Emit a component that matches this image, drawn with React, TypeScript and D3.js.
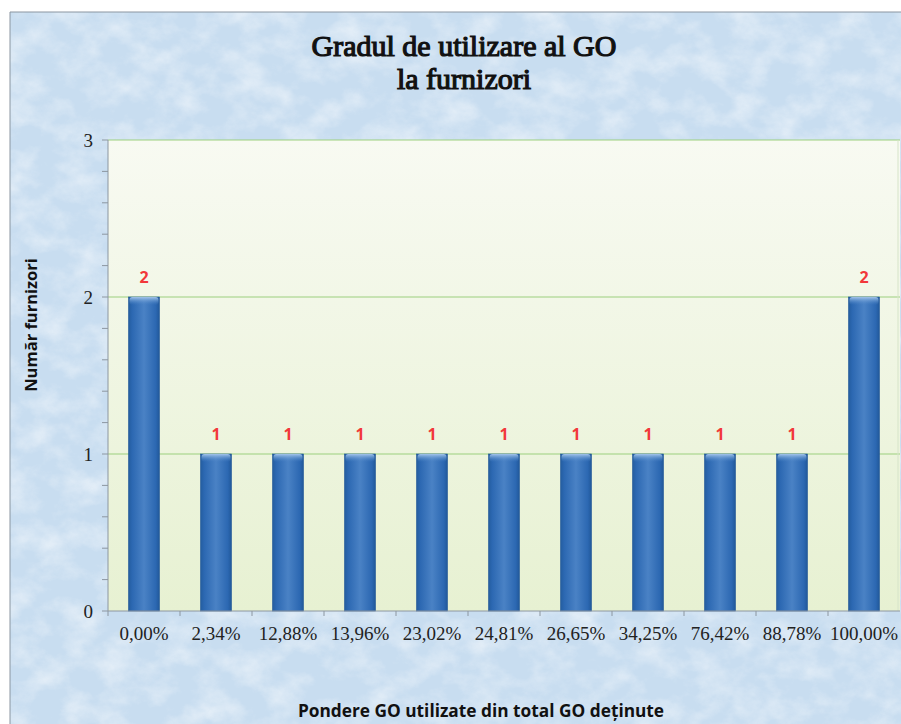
import React from "react";
import * as d3 from "d3";

const categories = ["0,00%", "2,34%", "12,88%", "13,96%", "23,02%", "24,81%", "26,65%", "34,25%", "76,42%", "88,78%", "100,00%"];
const values = [2, 1, 1, 1, 1, 1, 1, 1, 1, 1, 2];
const yTicks = [0, 1, 2, 3];
const titleLines = ["Gradul de utilizare al GO", "la furnizori"];
const yTitle = "Număr furnizori";
const xTitle = "Pondere GO utilizate din total GO deținute";

const W = 901, H = 724;
const M = { left: 108, right: 900, top: 140, bottom: 611 };
const SERIF = "'Liberation Serif', serif";
const SANS = "'Open Sans', 'Noto Sans', sans-serif";

export default function App() {
  const x = d3.scaleBand<string>().domain(categories).range([M.left, M.right]).paddingInner(0.57).paddingOuter(0.285);
  const xb = d3.scaleBand<string>().domain(categories).range([M.left, M.right]);
  const y = d3.scaleLinear().domain([0, 3]).range([M.bottom, M.top]);
  const minor = d3.range(0, 3.0001, 0.2);
  const bw = x.bandwidth();

  return (
    <svg width={W} height={H} style={{ position: "absolute", left: 0, top: 0 }} xmlns="http://www.w3.org/2000/svg">
      <defs>
        <filter id="marble" x="0" y="0" width="100%" height="100%">
          <feTurbulence type="fractalNoise" baseFrequency="0.03 0.04" numOctaves="5" seed="7" />
          <feColorMatrix type="matrix" values="0 0 0 0 1  0 0 0 0 1  0 0 0 0 1  1.8 0 0 0 -0.7" />
        </filter>
        <linearGradient id="plotBg" x1="0" y1="0" x2="0" y2="1">
          <stop offset="0" stopColor="#f8faf2" />
          <stop offset="1" stopColor="#e7f1d2" />
        </linearGradient>
        <linearGradient id="barG" x1="0" y1="0" x2="1" y2="0">
          <stop offset="0" stopColor="#245d9f" />
          <stop offset="0.12" stopColor="#2c68b2" />
          <stop offset="0.5" stopColor="#4a82c5" />
          <stop offset="0.88" stopColor="#2c68b2" />
          <stop offset="1" stopColor="#215899" />
        </linearGradient>
        <linearGradient id="capG" x1="0" y1="0" x2="0" y2="1">
          <stop offset="0" stopColor="#a4c5ea" />
          <stop offset="1" stopColor="#4d86c8" stopOpacity="0" />
        </linearGradient>
      </defs>
      <rect x={0} y={0} width={W} height={H} fill="#ffffff" />
      <rect x={10} y={12} width={W - 10} height={H - 12} fill="#c8ddf0" />
      <rect x={10} y={12} width={W - 10} height={H - 12} fill="#ffffff" filter="url(#marble)" opacity={0.55} />
      <line x1={10} y1={12} x2={W} y2={12} stroke="#8a95a0" strokeWidth={1} />
      <line x1={10} y1={12} x2={10} y2={H} stroke="#8a95a0" strokeWidth={1} />

      {titleLines.map((t, i) => (
        <text key={i} x={464} y={56 + i * 33} textAnchor="middle" fontFamily={SERIF} fontWeight="normal" fontSize={30} fill="#111" stroke="#111" strokeWidth={1.2} style={{ fontSynthesis: "none" }}>
          {t}
        </text>
      ))}

      <rect x={M.left} y={M.top} width={M.right - M.left} height={M.bottom - M.top} fill="url(#plotBg)" />
      {yTicks.filter(t => t > 0).map(t => (
        <line key={t} x1={M.left} x2={M.right} y1={y(t)} y2={y(t)} stroke="#9ccf7e" strokeWidth={1.2} />
      ))}
      <line x1={M.right - 2} x2={M.right - 2} y1={M.top} y2={M.bottom} stroke="#d6e4c8" strokeWidth={1} />

      {categories.map((c, i) => {
        const bx = x(c) as number;
        const by = y(values[i]);
        const bh = M.bottom - by;
        return (
          <g key={c}>
            <rect x={bx} y={by} width={bw} height={bh} fill="url(#barG)" stroke="#1f5596" strokeWidth={0.6} />
            <rect x={bx + 1} y={by} width={bw - 2} height={8} rx={3} fill="url(#capG)" />
            <text x={bx + bw / 2} y={by - 14} textAnchor="middle" fontFamily={SANS} fontWeight="bold" fontSize={16} fill="#f2383a">
              {values[i]}
            </text>
          </g>
        );
      })}

      {/* y axis */}
      <line x1={M.left} x2={M.left} y1={M.top} y2={M.bottom} stroke="#8c96a0" strokeWidth={1} />
      {minor.map((t, i) => (
        <line key={i} x1={M.left - 6} x2={M.left} y1={y(t)} y2={y(t)} stroke="#8c96a0" strokeWidth={1} />
      ))}
      {yTicks.map(t => (
        <text key={t} x={93} y={y(t) + 7} textAnchor="end" fontFamily={SERIF} fontSize={19} fill="#222">
          {t}
        </text>
      ))}
      <text transform={`translate(37,${325}) rotate(-90)`} textAnchor="middle" fontFamily={SANS} fontWeight="bold" fontSize={16.5} fill="#111">
        {yTitle}
      </text>

      {/* x axis */}
      <line x1={M.left} x2={M.right} y1={M.bottom} y2={M.bottom} stroke="#8c96a0" strokeWidth={1} />
      {categories.map(c => (
        <line key={"t" + c} x1={xb(c) as number} x2={xb(c) as number} y1={M.bottom} y2={M.bottom + 5} stroke="#8c96a0" strokeWidth={1} />
      ))}
      {categories.map(c => (
        <text key={"l" + c} x={(xb(c) as number) + xb.bandwidth() / 2} y={640} textAnchor="middle" fontFamily={SERIF} fontSize={19} fill="#222">
          {c}
        </text>
      ))}
      <text x={481} y={717} textAnchor="middle" fontFamily={SANS} fontWeight="bold" fontSize={17.3} fill="#111">
        {xTitle}
      </text>
    </svg>
  );
}
